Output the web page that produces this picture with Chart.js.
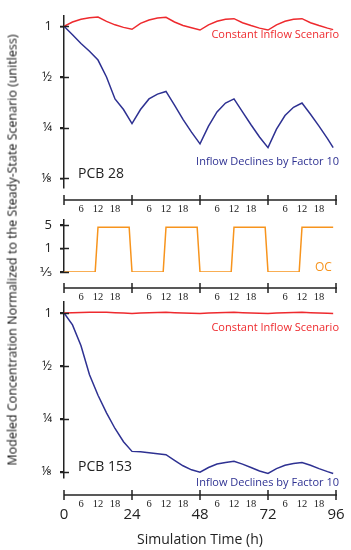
<!DOCTYPE html>
<html>
<head>
<meta charset="utf-8">
<script src="https://cdn.jsdelivr.net/npm/chart.js@4.4.0/dist/chart.umd.min.js"></script>
<style>
  body { margin: 0; background: #fff; }
  #wrap { position: relative; width: 351px; height: 550px; }
  #wrap canvas { position: absolute; left: 0; top: 0; }
  #ytitle {
    position: absolute; left: 12px; top: 250px;
    transform: translate(-50%, -50%) rotate(-90deg);
    white-space: nowrap; font: 12.5px 'Open Sans', sans-serif; color: #111;
  }
</style>
</head>
<body>
<div id="wrap">
  <canvas id="pcb28" width="351" height="550"></canvas>
  <canvas id="oc" width="351" height="550"></canvas>
  <canvas id="pcb153" width="351" height="550"></canvas>
  <div id="ytitle">Modeled Concentration Normalized to the Steady-State Scenario (unitless)</div>
</div>
<script>
// simulation hours (every 3 h)
const hours = [0, 3, 6, 9, 12, 15, 18, 21, 24, 27, 30, 33, 36, 39, 42, 45, 48,
  51, 54, 57, 60, 63, 66, 69, 72, 75, 78, 81, 84, 87, 90, 93, 95];

// PCB 28
const pcb28Constant = [1.0, 1.06, 1.10, 1.125, 1.135, 1.07, 1.02, 0.985, 0.96,
  1.04, 1.09, 1.12, 1.13, 1.06, 1.01, 0.98, 0.95,
  1.02, 1.07, 1.10, 1.11, 1.05, 1.01, 0.975, 0.95,
  1.02, 1.07, 1.10, 1.11, 1.05, 1.01, 0.975, 0.955];
const pcb28Declines = [1.0, 0.89, 0.79, 0.71, 0.63, 0.50, 0.37, 0.32, 0.264,
  0.32, 0.37, 0.395, 0.41, 0.34, 0.28, 0.235, 0.20,
  0.255, 0.31, 0.35, 0.37, 0.31, 0.26, 0.22, 0.19,
  0.245, 0.295, 0.33, 0.35, 0.30, 0.255, 0.215, 0.19];

// PCB 153
const pcb153Constant = [1.0, 1.003, 1.006, 1.009, 1.01, 1.008, 1.003, 0.998, 0.994,
  0.998, 1.003, 1.007, 1.008, 1.004, 1.0, 0.996, 0.993,
  0.998, 1.003, 1.007, 1.008, 1.004, 1.0, 0.996, 0.993,
  0.998, 1.003, 1.007, 1.008, 1.004, 1.0, 0.996, 0.993];
const pcb153Declines = [1.0, 0.855, 0.65, 0.445, 0.34, 0.27, 0.22, 0.185, 0.163,
  0.162, 0.160, 0.158, 0.156, 0.145, 0.135, 0.128, 0.124,
  0.132, 0.138, 0.141, 0.143, 0.138, 0.132, 0.126, 0.122,
  0.13, 0.136, 0.139, 0.141, 0.136, 0.130, 0.125, 0.122];

// organic carbon switching
const ocHours = [0, 11, 12, 23, 24, 35, 36, 47, 48, 59, 60, 71, 72, 83, 84, 95];
const ocValues = [0.2, 0.2, 4.3, 4.3, 0.2, 0.2, 4.3, 4.3, 0.2, 0.2, 4.3, 4.3, 0.2, 0.2, 4.3, 4.3];

const concTicks = [1, 0.5, 0.25, 0.125];
const concLabels = ['1', '½', '¼', '⅛'];
const ocTicks = [5, 1, 0.2];
const ocLabels = ['5', '1', '⅕'];
const dayTicks = [0, 24, 48, 72, 96];
const hourLabels = [6, 12, 18];
const xTitle = 'Simulation Time (h)';

const FONT = "'Open Sans', 'DejaVu Sans', sans-serif";
const SMALLFONT = "'Liberation Serif', serif";
const RED = '#ee2a2e', BLUE = '#2e3192', ORANGE = '#f7941d', INK = '#222';

function pts(xs, ys) {
  return xs.map((x, i) => ({x: x, y: ys[i]}));
}

// draws the detached time axis, inner tick halves and notes
const timeAxis = {
  id: 'timeAxis',
  afterDraw(chart, args, opts) {
    const ctx = chart.ctx, xs = chart.scales.x, ys = chart.scales.y, area = chart.chartArea;
    ctx.save();
    ctx.strokeStyle = INK;
    ctx.lineWidth = 1.5;
    ys.ticks.forEach(t => {
      const py = Math.round(ys.getPixelForValue(t.value)) + 0.5;
      ctx.beginPath(); ctx.moveTo(area.left - 4, py); ctx.lineTo(area.left + 5, py); ctx.stroke();
    });
    const ay = area.bottom + opts.gap;
    ctx.beginPath();
    ctx.moveTo(xs.getPixelForValue(0), ay);
    ctx.lineTo(xs.getPixelForValue(96) + 1, ay);
    ctx.stroke();
    dayTicks.forEach(d => {
      const px = xs.getPixelForValue(d);
      ctx.beginPath(); ctx.moveTo(px, ay - 5); ctx.lineTo(px, ay + 5); ctx.stroke();
    });
    ctx.fillStyle = INK;
    ctx.textAlign = 'center';
    ctx.textBaseline = 'middle';
    ctx.font = '10.5px ' + SMALLFONT;
    dayTicks.slice(0, -1).forEach(d => {
      hourLabels.forEach(h => ctx.fillText(String(h), xs.getPixelForValue(d + h), ay + 9));
    });
    if (opts.major) {
      ctx.font = '15px ' + FONT;
      dayTicks.forEach(d => ctx.fillText(String(d), xs.getPixelForValue(d), ay + 20));
      ctx.font = '14px ' + FONT;
      ctx.fillText(xTitle, (xs.left + xs.right) / 2, ay + 45);
    }
    (opts.notes || []).forEach(n => {
      ctx.font = n.size + 'px ' + FONT;
      ctx.fillStyle = n.color;
      ctx.textAlign = n.align;
      ctx.fillText(n.text, n.x, n.y);
    });
    ctx.restore();
  }
};

function yScale(min, max, ticks, labels) {
  return {
    type: 'logarithmic', min: min, max: max,
    afterFit: s => { s.width = 64; },
    afterBuildTicks: s => { s.ticks = ticks.map(v => ({value: v})); },
    ticks: {
      autoSkip: false, padding: 8, color: INK,
      font: {family: FONT, size: 13},
      callback: (v, i) => labels[i]
    },
    grid: {drawOnChartArea: false, drawTicks: true, tickLength: 4, color: INK, lineWidth: 1.5},
    border: {color: INK, width: 1.5}
  };
}

function line(data, color) {
  return {data: data, borderColor: color, borderWidth: 1.5, pointRadius: 0, tension: 0, fill: false};
}

function makePanel(id, datasets, y, padding, axisOpts) {
  return new Chart(document.getElementById(id), {
    type: 'line',
    data: {datasets: datasets},
    options: {
      responsive: false,
      animation: false,
      events: [],
      layout: {padding: padding},
      scales: {
        x: {type: 'linear', min: 0, max: 96, display: false},
        y: y
      },
      plugins: {legend: {display: false}, tooltip: {enabled: false}, timeAxis: axisOpts}
    },
    plugins: [timeAxis]
  });
}

makePanel('pcb28', [
  line(pts(hours, pcb28Constant), RED),
  line(pts(hours, pcb28Declines), BLUE)
], yScale(0.1094, 1.154, concTicks, concLabels),
{top: 8, bottom: 362, left: 0, right: 15},
{gap: 12, major: false, notes: [
  {text: 'Constant Inflow Scenario', x: 339, y: 35, color: RED, size: 11, align: 'right'},
  {text: 'Inflow Declines by Factor 10', x: 339, y: 162, color: BLUE, size: 11, align: 'right'},
  {text: 'PCB 28', x: 78, y: 174, color: INK, size: 14, align: 'left'}
]});

makePanel('oc', [
  line(pts(ocHours, ocValues), ORANGE)
], yScale(0.2, 7.04, ocTicks, ocLabels),
{top: 220, bottom: 278, left: 0, right: 15},
{gap: 16, major: false, notes: [
  {text: 'OC', x: 315, y: 268, color: ORANGE, size: 12, align: 'left'}
]});

makePanel('pcb153', [
  line(pts(hours, pcb153Constant), RED),
  line(pts(hours, pcb153Declines), BLUE)
], yScale(0.115, 1.154, concTicks, concLabels),
{top: 302, bottom: 72, left: 0, right: 15},
{gap: 17, major: true, notes: [
  {text: 'Constant Inflow Scenario', x: 339, y: 328, color: RED, size: 11, align: 'right'},
  {text: 'Inflow Declines by Factor 10', x: 339, y: 483, color: BLUE, size: 11, align: 'right'},
  {text: 'PCB 153', x: 78, y: 467, color: INK, size: 14, align: 'left'}
]});
</script>
</body>
</html>
